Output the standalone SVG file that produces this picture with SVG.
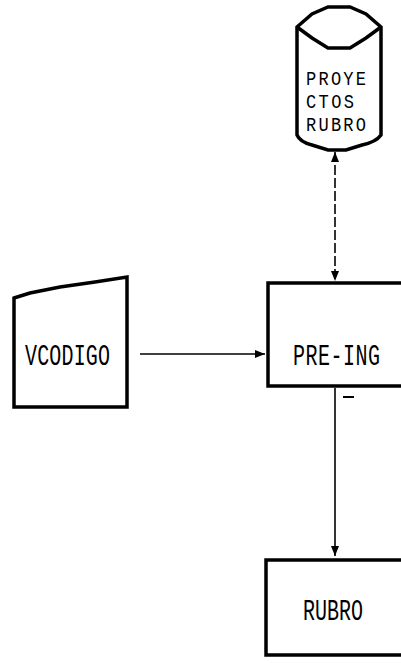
<svg xmlns="http://www.w3.org/2000/svg" width="401" height="663" viewBox="0 0 401 663">
<style>
.box{fill:#fff;stroke:#000;stroke-width:3.5;stroke-linejoin:miter}
.lbl{font-family:"Liberation Mono","DejaVu Sans Mono",monospace;font-size:20px;fill:#000}
.cyl{font-size:17px}
.con{stroke:#000;stroke-width:1.6;fill:none}
</style>
<defs>
<marker id="ah" viewBox="0 0 10 10" refX="10" refY="5" markerWidth="10" markerHeight="10" markerUnits="userSpaceOnUse" orient="auto-start-reverse">
<path d="M0,1 L10,5 L0,9 z" fill="#000"/>
</marker>
</defs>
<rect width="401" height="663" fill="#fff"/>
<g id="connectors">
<line class="con" x1="335" y1="152" x2="335" y2="281" stroke-dasharray="10 3" marker-start="url(#ah)" marker-end="url(#ah)"/>
<line class="con" x1="140" y1="354" x2="265" y2="354" marker-end="url(#ah)"/>
<line class="con" x1="335" y1="388" x2="335" y2="556" marker-end="url(#ah)"/>
<line x1="343" y1="397" x2="354" y2="397" stroke="#000" stroke-width="2"/>
</g>
<g id="proyectos-rubro">
<path class="box" d="M297,27 L297,135 Q300,142 312,145 L328,150 L346,150 L362,145 Q376,142 381,135 L381,27 L366,14 L350,7 L328,7 L312,14 Z"/>
<path class="box" fill="none" d="M297,27 L312,38 L328,48 L350,48 L366,38 L381,27"/>
<text class="lbl cyl" transform="translate(306,85) scale(1,1.17)" textLength="60">PROYE</text>
<text class="lbl cyl" transform="translate(306,108) scale(1,1.17)" textLength="48">CTOS</text>
<text class="lbl cyl" transform="translate(306,131) scale(1,1.17)" textLength="60">RUBRO</text>
</g>
<g id="vcodigo">
<path class="box" d="M14,298 L30,293 L60,287 L95,282 L127,277 L127,407 L14,407 Z"/>
<text class="lbl" transform="translate(25,365) scale(1,1.45)" textLength="85">VCODIGO</text>
</g>
<g id="pre-ing">
<path class="box" d="M403,283 L268,283 L268,386 L403,386"/>
<text class="lbl" transform="translate(293,365) scale(1,1.45)" textLength="87">PRE-ING</text>
</g>
<g id="rubro">
<path class="box" d="M403,560 L266,560 L266,655 L403,655"/>
<text class="lbl" transform="translate(303,620) scale(1,1.45)" textLength="60">RUBRO</text>
</g>
</svg>
